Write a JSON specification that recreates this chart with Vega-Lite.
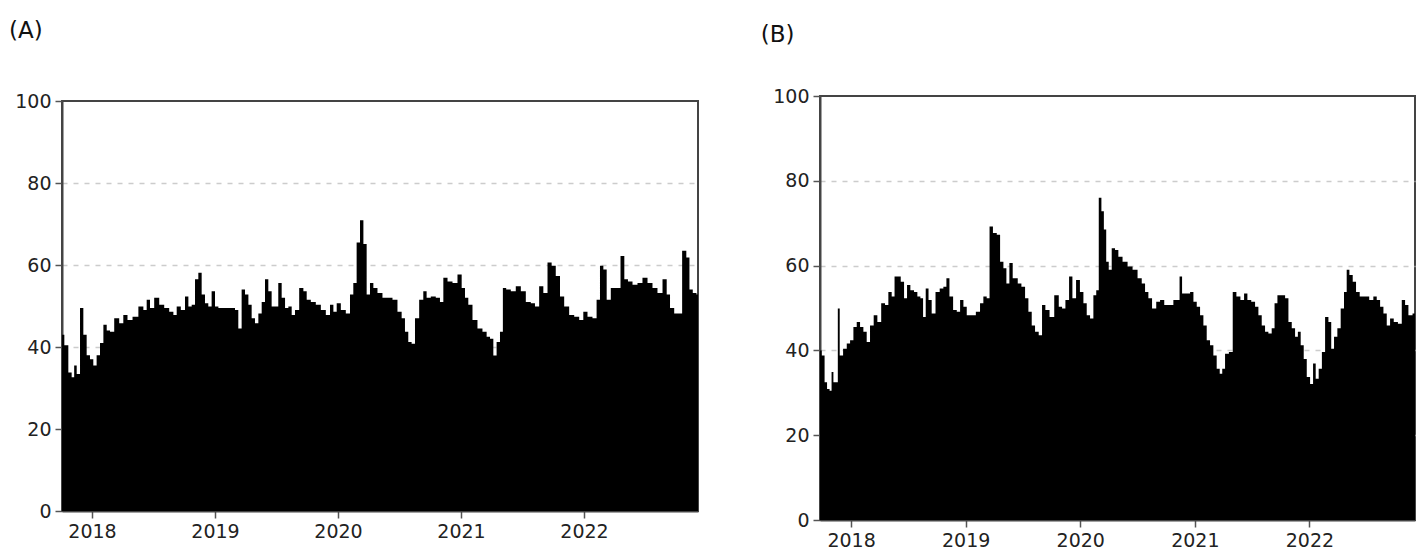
{
  "$schema": "https://vega.github.io/schema/vega-lite/v6.json",
  "padding": {"left": 9, "top": 20, "right": 0, "bottom": 0},
  "background": "white",
  "spacing": 60,
  "config": {
    "font": "DejaVu Sans",
    "view": {"stroke": "#444444", "strokeWidth": 2},
    "axis": {
      "domainColor": "#444444",
      "domainWidth": 2,
      "tickColor": "#555555",
      "tickSize": 7,
      "tickWidth": 1.5,
      "labelFont": "DejaVu Sans",
      "labelFontSize": 19,
      "labelColor": "#222222",
      "labelPadding": 4,
      "gridDash": [5, 6],
      "gridWidth": 1.5
    },
    "title": {"font": "DejaVu Sans", "fontSize": 23, "fontWeight": "normal", "anchor": "start", "frame": "bounds", "color": "#111111"}
  },
  "datasets": {
    "a": [
      {"t": 2017.756, "v": 43}, {"t": 2017.794, "v": 40.4}, {"t": 2017.821, "v": 33.8}, {"t": 2017.848, "v": 32.6},
      {"t": 2017.862, "v": 35.5}, {"t": 2017.889, "v": 33.4}, {"t": 2017.916, "v": 49.5}, {"t": 2017.943, "v": 43},
      {"t": 2017.970, "v": 38}, {"t": 2017.997, "v": 37}, {"t": 2018.024, "v": 35.5}, {"t": 2018.051, "v": 38},
      {"t": 2018.079, "v": 41}, {"t": 2018.106, "v": 45.4}, {"t": 2018.133, "v": 44}, {"t": 2018.160, "v": 43.7},
      {"t": 2018.201, "v": 47}, {"t": 2018.241, "v": 45.8}, {"t": 2018.268, "v": 47.8}, {"t": 2018.309, "v": 46.6},
      {"t": 2018.350, "v": 47.4}, {"t": 2018.404, "v": 49.9}, {"t": 2018.431, "v": 49}, {"t": 2018.458, "v": 51.5},
      {"t": 2018.485, "v": 49.5}, {"t": 2018.526, "v": 52}, {"t": 2018.567, "v": 50.3}, {"t": 2018.607, "v": 49.5},
      {"t": 2018.648, "v": 48.6}, {"t": 2018.675, "v": 47.8}, {"t": 2018.702, "v": 49.9}, {"t": 2018.742, "v": 49},
      {"t": 2018.770, "v": 52.3}, {"t": 2018.797, "v": 49.9}, {"t": 2018.824, "v": 50.3}, {"t": 2018.851, "v": 56.5},
      {"t": 2018.878, "v": 58.1}, {"t": 2018.905, "v": 52.8}, {"t": 2018.932, "v": 50.7}, {"t": 2018.959, "v": 49.9},
      {"t": 2018.986, "v": 53.6}, {"t": 2019.014, "v": 49.9}, {"t": 2019.041, "v": 49.5}, {"t": 2019.095, "v": 49.5},
      {"t": 2019.149, "v": 49.5}, {"t": 2019.176, "v": 49}, {"t": 2019.203, "v": 44.5}, {"t": 2019.230, "v": 54},
      {"t": 2019.258, "v": 52.8}, {"t": 2019.285, "v": 50.3}, {"t": 2019.311, "v": 47}, {"t": 2019.339, "v": 45.8},
      {"t": 2019.366, "v": 48.2}, {"t": 2019.393, "v": 51}, {"t": 2019.420, "v": 56.5}, {"t": 2019.447, "v": 53.6},
      {"t": 2019.474, "v": 49.9}, {"t": 2019.501, "v": 49.9}, {"t": 2019.528, "v": 55.6}, {"t": 2019.556, "v": 52},
      {"t": 2019.583, "v": 49.5}, {"t": 2019.610, "v": 49.9}, {"t": 2019.637, "v": 47.8}, {"t": 2019.664, "v": 49},
      {"t": 2019.705, "v": 54.4}, {"t": 2019.732, "v": 53.6}, {"t": 2019.759, "v": 51.5}, {"t": 2019.799, "v": 51},
      {"t": 2019.840, "v": 50.3}, {"t": 2019.881, "v": 49}, {"t": 2019.921, "v": 47.8}, {"t": 2019.949, "v": 50.3},
      {"t": 2019.976, "v": 48.6}, {"t": 2020.003, "v": 50.7}, {"t": 2020.043, "v": 49}, {"t": 2020.084, "v": 48.2},
      {"t": 2020.111, "v": 52.8}, {"t": 2020.138, "v": 55.6}, {"t": 2020.165, "v": 65.5}, {"t": 2020.193, "v": 70.9},
      {"t": 2020.220, "v": 65.1}, {"t": 2020.246, "v": 52.8}, {"t": 2020.274, "v": 55.6}, {"t": 2020.301, "v": 54.4},
      {"t": 2020.341, "v": 53.2}, {"t": 2020.382, "v": 52}, {"t": 2020.423, "v": 52}, {"t": 2020.463, "v": 51.5},
      {"t": 2020.504, "v": 48.6}, {"t": 2020.531, "v": 47}, {"t": 2020.558, "v": 43.7}, {"t": 2020.585, "v": 41.2},
      {"t": 2020.612, "v": 40.8}, {"t": 2020.640, "v": 47}, {"t": 2020.680, "v": 51.5}, {"t": 2020.707, "v": 53.6},
      {"t": 2020.734, "v": 52}, {"t": 2020.775, "v": 52.3}, {"t": 2020.815, "v": 52}, {"t": 2020.843, "v": 51},
      {"t": 2020.870, "v": 56.9}, {"t": 2020.911, "v": 56}, {"t": 2020.951, "v": 55.6}, {"t": 2020.992, "v": 57.7},
      {"t": 2021.019, "v": 54.4}, {"t": 2021.046, "v": 52}, {"t": 2021.073, "v": 50.3}, {"t": 2021.114, "v": 46.6},
      {"t": 2021.154, "v": 44.5}, {"t": 2021.195, "v": 43.7}, {"t": 2021.222, "v": 42.5}, {"t": 2021.250, "v": 42},
      {"t": 2021.276, "v": 37.9}, {"t": 2021.303, "v": 41.2}, {"t": 2021.331, "v": 43.7}, {"t": 2021.350, "v": 54.4},
      {"t": 2021.385, "v": 54}, {"t": 2021.425, "v": 53.6}, {"t": 2021.466, "v": 54.8}, {"t": 2021.507, "v": 53.6},
      {"t": 2021.547, "v": 51}, {"t": 2021.588, "v": 50.7}, {"t": 2021.615, "v": 49.9}, {"t": 2021.656, "v": 54.8},
      {"t": 2021.683, "v": 53.2}, {"t": 2021.724, "v": 60.6}, {"t": 2021.750, "v": 59.8}, {"t": 2021.791, "v": 57.3},
      {"t": 2021.819, "v": 52.3}, {"t": 2021.859, "v": 49.9}, {"t": 2021.900, "v": 47.8}, {"t": 2021.941, "v": 47.4},
      {"t": 2021.981, "v": 46.6}, {"t": 2022.008, "v": 48.6}, {"t": 2022.049, "v": 47.4}, {"t": 2022.089, "v": 47},
      {"t": 2022.116, "v": 51.5}, {"t": 2022.144, "v": 59.8}, {"t": 2022.171, "v": 58.9}, {"t": 2022.198, "v": 51.5},
      {"t": 2022.238, "v": 54.4}, {"t": 2022.279, "v": 54.4}, {"t": 2022.315, "v": 62.2}, {"t": 2022.341, "v": 56.5},
      {"t": 2022.374, "v": 56}, {"t": 2022.415, "v": 55.2}, {"t": 2022.455, "v": 55.6}, {"t": 2022.496, "v": 56.9},
      {"t": 2022.537, "v": 55.6}, {"t": 2022.577, "v": 54.4}, {"t": 2022.618, "v": 53.2}, {"t": 2022.659, "v": 56.5},
      {"t": 2022.686, "v": 52.8}, {"t": 2022.713, "v": 49.5}, {"t": 2022.754, "v": 48.2}, {"t": 2022.780, "v": 48.2},
      {"t": 2022.816, "v": 63.5}, {"t": 2022.848, "v": 61.8}, {"t": 2022.867, "v": 54}, {"t": 2022.902, "v": 53.2},
      {"t": 2022.927, "v": 52.8}
    ],
    "b": [
      {"t": 2017.729, "v": 40}, {"t": 2017.759, "v": 38.8}, {"t": 2017.779, "v": 32.5}, {"t": 2017.802, "v": 30.9},
      {"t": 2017.823, "v": 30.5}, {"t": 2017.837, "v": 34.9}, {"t": 2017.855, "v": 32.5}, {"t": 2017.880, "v": 32.5},
      {"t": 2017.889, "v": 49.9}, {"t": 2017.913, "v": 38.8}, {"t": 2017.948, "v": 40.4}, {"t": 2017.977, "v": 41.6},
      {"t": 2018.006, "v": 42.4}, {"t": 2018.035, "v": 45.5}, {"t": 2018.064, "v": 46.7}, {"t": 2018.093, "v": 45.5},
      {"t": 2018.122, "v": 44.4}, {"t": 2018.151, "v": 42}, {"t": 2018.180, "v": 45.9}, {"t": 2018.215, "v": 48.3},
      {"t": 2018.244, "v": 46.7}, {"t": 2018.282, "v": 51.1}, {"t": 2018.311, "v": 50.7}, {"t": 2018.340, "v": 53.8},
      {"t": 2018.369, "v": 52.7}, {"t": 2018.390, "v": 57.4}, {"t": 2018.419, "v": 57.4}, {"t": 2018.448, "v": 56.2},
      {"t": 2018.477, "v": 52.3}, {"t": 2018.500, "v": 55.4}, {"t": 2018.535, "v": 54.2}, {"t": 2018.564, "v": 53.8},
      {"t": 2018.593, "v": 52.7}, {"t": 2018.617, "v": 52.3}, {"t": 2018.640, "v": 47.9}, {"t": 2018.663, "v": 54.6},
      {"t": 2018.689, "v": 51.9}, {"t": 2018.718, "v": 48.7}, {"t": 2018.756, "v": 53.8}, {"t": 2018.791, "v": 54.6},
      {"t": 2018.820, "v": 55}, {"t": 2018.844, "v": 57}, {"t": 2018.873, "v": 52.7}, {"t": 2018.908, "v": 49.5},
      {"t": 2018.937, "v": 49.1}, {"t": 2018.966, "v": 51.9}, {"t": 2018.995, "v": 50.3}, {"t": 2019.024, "v": 48.3},
      {"t": 2019.067, "v": 48.3}, {"t": 2019.111, "v": 49.1}, {"t": 2019.140, "v": 51.1}, {"t": 2019.169, "v": 52.7},
      {"t": 2019.198, "v": 52.3}, {"t": 2019.219, "v": 69.2}, {"t": 2019.257, "v": 67.7}, {"t": 2019.286, "v": 67.3},
      {"t": 2019.315, "v": 60.9}, {"t": 2019.344, "v": 59.4}, {"t": 2019.367, "v": 55.8}, {"t": 2019.396, "v": 60.6},
      {"t": 2019.425, "v": 57}, {"t": 2019.440, "v": 57}, {"t": 2019.469, "v": 55.8}, {"t": 2019.504, "v": 55},
      {"t": 2019.533, "v": 52.3}, {"t": 2019.562, "v": 49.1}, {"t": 2019.591, "v": 45.9}, {"t": 2019.620, "v": 44.4},
      {"t": 2019.655, "v": 43.6}, {"t": 2019.678, "v": 50.7}, {"t": 2019.713, "v": 49.5}, {"t": 2019.751, "v": 47.9},
      {"t": 2019.795, "v": 53}, {"t": 2019.830, "v": 50.3}, {"t": 2019.853, "v": 49.9}, {"t": 2019.888, "v": 51.9},
      {"t": 2019.917, "v": 57.4}, {"t": 2019.946, "v": 52.3}, {"t": 2019.981, "v": 56.6}, {"t": 2020.013, "v": 53.8},
      {"t": 2020.042, "v": 51.1}, {"t": 2020.071, "v": 48.3}, {"t": 2020.100, "v": 47.5}, {"t": 2020.129, "v": 53},
      {"t": 2020.150, "v": 54.2}, {"t": 2020.173, "v": 76}, {"t": 2020.196, "v": 72.8}, {"t": 2020.216, "v": 68.5},
      {"t": 2020.237, "v": 60.9}, {"t": 2020.260, "v": 59}, {"t": 2020.289, "v": 64.1}, {"t": 2020.318, "v": 63.7},
      {"t": 2020.347, "v": 62.1}, {"t": 2020.391, "v": 60.9}, {"t": 2020.435, "v": 59.8}, {"t": 2020.478, "v": 59},
      {"t": 2020.522, "v": 57}, {"t": 2020.551, "v": 55.8}, {"t": 2020.580, "v": 53.8}, {"t": 2020.609, "v": 52.3},
      {"t": 2020.644, "v": 49.9}, {"t": 2020.682, "v": 51.5}, {"t": 2020.711, "v": 51.9}, {"t": 2020.755, "v": 50.7},
      {"t": 2020.798, "v": 50.7}, {"t": 2020.827, "v": 51.9}, {"t": 2020.856, "v": 51.9}, {"t": 2020.877, "v": 57.4},
      {"t": 2020.900, "v": 53.4}, {"t": 2020.944, "v": 53.4}, {"t": 2020.973, "v": 53.8}, {"t": 2021.002, "v": 51.5},
      {"t": 2021.031, "v": 50.3}, {"t": 2021.060, "v": 48.3}, {"t": 2021.089, "v": 45.9}, {"t": 2021.118, "v": 42.4},
      {"t": 2021.147, "v": 41.2}, {"t": 2021.176, "v": 38.8}, {"t": 2021.205, "v": 35.7}, {"t": 2021.229, "v": 34.5},
      {"t": 2021.249, "v": 35.7}, {"t": 2021.278, "v": 39.2}, {"t": 2021.316, "v": 39.6}, {"t": 2021.345, "v": 53.8},
      {"t": 2021.380, "v": 52.7}, {"t": 2021.415, "v": 51.9}, {"t": 2021.444, "v": 53.4}, {"t": 2021.473, "v": 51.9},
      {"t": 2021.511, "v": 51.5}, {"t": 2021.540, "v": 50.3}, {"t": 2021.569, "v": 48.3}, {"t": 2021.598, "v": 45.9},
      {"t": 2021.627, "v": 44.4}, {"t": 2021.656, "v": 44}, {"t": 2021.685, "v": 45.2}, {"t": 2021.706, "v": 51.1},
      {"t": 2021.735, "v": 53}, {"t": 2021.773, "v": 53}, {"t": 2021.802, "v": 52.3}, {"t": 2021.831, "v": 46.7},
      {"t": 2021.860, "v": 45.2}, {"t": 2021.889, "v": 43.2}, {"t": 2021.909, "v": 44.4}, {"t": 2021.938, "v": 41.2},
      {"t": 2021.962, "v": 38}, {"t": 2021.991, "v": 33.7}, {"t": 2022.020, "v": 32.1}, {"t": 2022.043, "v": 36.9},
      {"t": 2022.066, "v": 33.3}, {"t": 2022.095, "v": 35.7}, {"t": 2022.122, "v": 39.6}, {"t": 2022.151, "v": 47.9},
      {"t": 2022.180, "v": 46.7}, {"t": 2022.200, "v": 40.4}, {"t": 2022.229, "v": 43.2}, {"t": 2022.258, "v": 45.2},
      {"t": 2022.287, "v": 49.9}, {"t": 2022.316, "v": 53.8}, {"t": 2022.334, "v": 59}, {"t": 2022.363, "v": 57.8},
      {"t": 2022.392, "v": 56.2}, {"t": 2022.421, "v": 53.8}, {"t": 2022.456, "v": 52.7}, {"t": 2022.500, "v": 52.7},
      {"t": 2022.543, "v": 51.9}, {"t": 2022.572, "v": 52.7}, {"t": 2022.602, "v": 51.9}, {"t": 2022.631, "v": 50.3},
      {"t": 2022.660, "v": 48.7}, {"t": 2022.689, "v": 45.9}, {"t": 2022.718, "v": 47.5}, {"t": 2022.753, "v": 46.7},
      {"t": 2022.791, "v": 46.3}, {"t": 2022.820, "v": 51.9}, {"t": 2022.849, "v": 50.7}, {"t": 2022.878, "v": 48.3},
      {"t": 2022.921, "v": 48.7}
    ]
  },
  "hconcat": [
    {
      "spacing": 0,
      "bounds": "flush",
      "vconcat": [
        {
          "width": 636,
          "height": 5,
          "view": {"stroke": null},
          "title": {"text": "(A)", "offset": 53, "dx": -53},
          "data": {"values": []},
          "mark": {"type": "point"},
          "encoding": {}
        },
        {
          "width": 636,
          "height": 410,
          "data": {"name": "a"},
          "mark": {"type": "area", "interpolate": "step", "color": "black", "clip": true},
          "encoding": {
            "x": {
              "field": "t", "type": "quantitative",
              "scale": {"domain": [2017.756, 2022.927], "nice": false, "zero": false},
              "axis": {"values": [2018, 2019, 2020, 2021, 2022], "format": "d", "title": null, "grid": false}
            },
            "y": {
              "field": "v", "type": "quantitative",
              "scale": {"domain": [0, 100], "nice": false},
              "axis": {
                "values": [0, 20, 40, 60, 80, 100], "title": null, "grid": true,
                "gridColor": {"condition": {"test": "datum.value >= 100 || datum.value <= 0", "value": "transparent"}, "value": "#cccccc"}
              }
            }
          }
        }
      ]
    },
    {
      "width": 595,
      "height": 424,
      "title": {"text": "(B)", "offset": 40, "dx": -12},
      "data": {"name": "b"},
      "mark": {"type": "area", "interpolate": "step", "color": "black", "clip": true},
      "encoding": {
        "x": {
          "field": "t", "type": "quantitative",
          "scale": {"domain": [2017.729, 2022.921], "nice": false, "zero": false},
          "axis": {"values": [2018, 2019, 2020, 2021, 2022], "format": "d", "title": null, "grid": false}
        },
        "y": {
          "field": "v", "type": "quantitative",
          "scale": {"domain": [0, 100], "nice": false},
          "axis": {
            "values": [0, 20, 40, 60, 80, 100], "title": null, "grid": true,
            "gridColor": {"condition": {"test": "datum.value >= 100 || datum.value <= 0", "value": "transparent"}, "value": "#cccccc"}
          }
        }
      }
    }
  ]
}
